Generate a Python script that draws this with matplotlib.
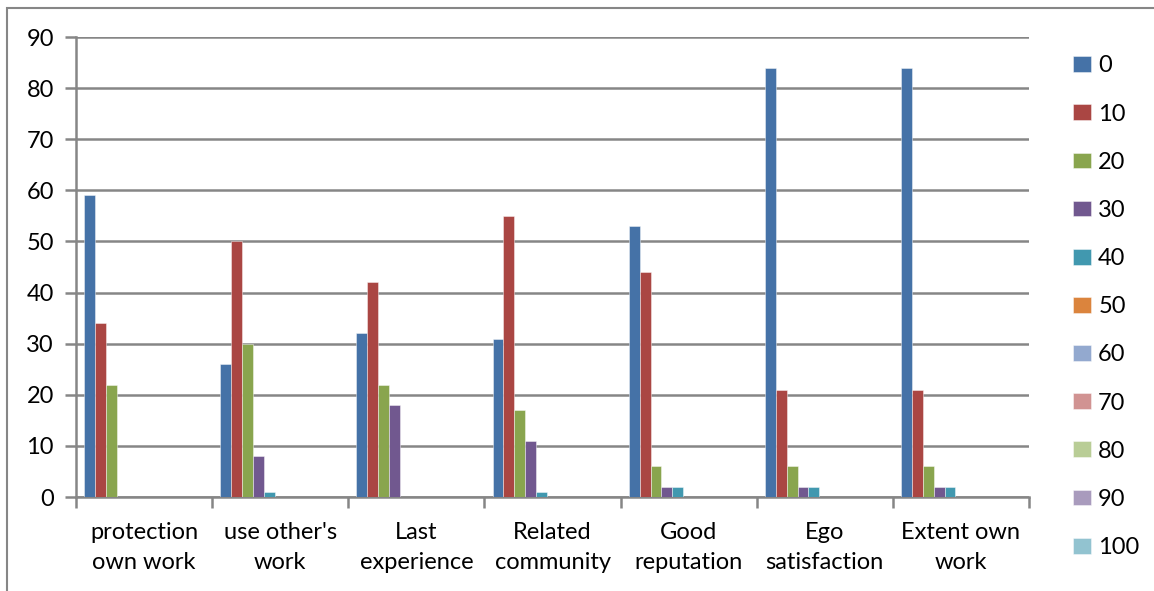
import numpy as np
import matplotlib.pyplot as plt
from matplotlib.patches import Rectangle

plt.rcParams['font.family'] = ['Lato', 'DejaVu Sans']

categories = ["protection\nown work", "use other's\nwork", "Last\nexperience",
              "Related\ncommunity", "Good\nreputation", "Ego\nsatisfaction",
              "Extent own\nwork"]
series_names = ["0", "10", "20", "30", "40", "50", "60", "70", "80", "90", "100"]

s0 = [59, 26, 32, 31, 53, 84, 84]
s10 = [34, 50, 42, 55, 44, 21, 21]
s20 = [22, 30, 22, 17, 6, 6, 6]
s30 = [0, 8, 18, 11, 2, 2, 2]
s40 = [0, 1, 0, 1, 2, 2, 2]
s50 = [0, 0, 0, 0, 0, 0, 0]
s60 = [0, 0, 0, 0, 0, 0, 0]
s70 = [0, 0, 0, 0, 0, 0, 0]
s80 = [0, 0, 0, 0, 0, 0, 0]
s90 = [0, 0, 0, 0, 0, 0, 0]
s100 = [0, 0, 0, 0, 0, 0, 0]
values = [s0, s10, s20, s30, s40, s50, s60, s70, s80, s90, s100]

colors = ["#4572A7", "#AA4643", "#89A54E", "#71588F", "#4198AF", "#DB843D",
          "#93A9CF", "#D19392", "#B9CD96", "#A99BBD", "#92C3D0"]

fs = 17

fig = plt.figure(figsize=(11.54, 5.91), dpi=100)
ax = fig.add_axes([76 / 1154, 1 - 497 / 591, (1029 - 76) / 1154, 460 / 591])

# outer chart frame, cut off on the right and bottom
fig.patches.append(Rectangle((7 / 1154, -0.1), 1.2, 1 - 8 / 591 + 0.1,
                             transform=fig.transFigure, fill=False,
                             edgecolor="#868686", linewidth=1.5))

n = len(series_names)
gap = 1.5
bw = 1.0 / (n + gap)
x = np.arange(len(categories))
for i, (name, vals) in enumerate(zip(series_names, values)):
    pos = x + gap / 2 * bw + i * bw + bw / 2
    ax.bar(pos, vals, width=bw, color=colors[i], label=name,
           edgecolor=(1, 1, 1, 0.5), linewidth=0.6, zorder=3)

ax.set_xlim(0, len(categories))
ax.set_ylim(0, 90)
ax.set_yticks(np.arange(0, 91, 10))
ax.yaxis.grid(True, color="#868686", linewidth=1.8, zorder=0)
ax.set_xticks(np.arange(len(categories) + 1))
ax.set_xticklabels([])
ax.set_xticks(x + 0.5, minor=True)
ax.set_xticklabels(categories, minor=True, fontsize=fs, linespacing=1.55)
ax.tick_params(axis="x", which="minor", length=0, pad=18)
ax.tick_params(axis="x", which="major", length=8, width=1.8, color="#868686")
ax.tick_params(axis="y", length=8, width=1.8, color="#868686", labelsize=fs, pad=8)

for side in ["top", "right"]:
    ax.spines[side].set_visible(False)
for side in ["left", "bottom"]:
    ax.spines[side].set_color("#868686")
    ax.spines[side].set_linewidth(1.8)

fig.legend(loc="upper left", bbox_to_anchor=(1064 / 1154, 1 - 46 / 591),
           frameon=False, fontsize=fs, handlelength=0.75, handleheight=0.65,
           handletextpad=0.3, labelspacing=1.15, borderaxespad=0)

fig.savefig("out.png", dpi=100)
